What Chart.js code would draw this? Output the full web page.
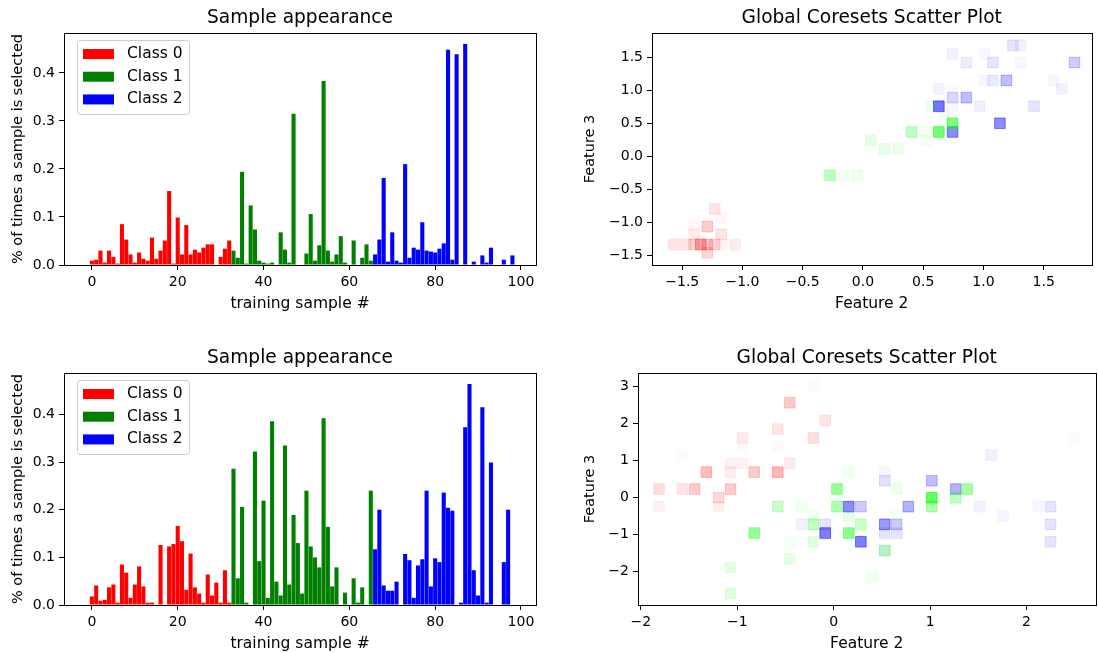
<!DOCTYPE html>
<html>
<head>
<meta charset="utf-8">
<script src="https://cdn.jsdelivr.net/npm/chart.js@4/dist/chart.umd.min.js"></script>
<style>
    html, body { margin: 0; padding: 0; background: #fff; }
    body { width: 1098px; height: 653px; position: relative; overflow: hidden; }
    canvas { position: absolute; }
</style>
</head>
<body>
<canvas id="barTop" width="546" height="314" style="left:0px;top:0px"></canvas>
<canvas id="barBottom" width="546" height="314" style="left:0px;top:340px"></canvas>
<canvas id="scatterTop" width="530" height="314" style="left:570px;top:0px"></canvas>
<canvas id="scatterBottom" width="534" height="314" style="left:570px;top:340px"></canvas>
<script>
// class names / colours
const classNames = ["Class 0", "Class 1", "Class 2"];
const barColors = ["#ff0000", "#008000", "#0000ff"];
const pointRgb = ["255,0,0", "0,255,0", "0,0,255"];
const classStart = [0, 33, 66];

// top "Sample appearance" (training samples 0..99)
const topClass0 = [0.009, 0.011, 0.030, 0.005, 0.030, 0.017, 0.003, 0.085, 0.053, 0.022, 0.005, 0.026, 0.013, 0.009, 0.057, 0.013, 0.030, 0.051, 0.154, 0.003, 0.099, 0.022, 0.083, 0.022, 0.032, 0.026, 0.036, 0.043, 0.043, 0, 0.017, 0.034, 0.051];
const topClass1 = [0.030, 0.015, 0.194, 0.003, 0.124, 0.074, 0.009, 0.005, 0.003, 0.005, 0, 0.068, 0.032, 0.005, 0.315, 0, 0, 0.024, 0.106, 0.009, 0.041, 0.383, 0.030, 0.007, 0.022, 0.060, 0.005, 0, 0.051, 0, 0.015, 0.043, 0.009];
const topClass2 = [0.022, 0.053, 0.181, 0.007, 0.068, 0.009, 0.005, 0.210, 0.015, 0.036, 0.032, 0.089, 0.030, 0.028, 0.026, 0.034, 0.045, 0.448, 0.011, 0.439, 0, 0.460, 0, 0.007, 0, 0.020, 0.005, 0.036, 0, 0, 0.011, 0, 0.020, 0];

// bottom "Sample appearance"
const botClass0 = [0.018, 0.041, 0.009, 0.011, 0.037, 0.043, 0.005, 0.085, 0.068, 0.015, 0.043, 0.081, 0.039, 0.005, 0.005, 0, 0.126, 0, 0.123, 0.128, 0.166, 0.134, 0.032, 0.108, 0.037, 0.024, 0.005, 0.064, 0.020, 0.047, 0.005, 0.073, 0.005];
const botClass1 = [0.286, 0.056, 0.206, 0.005, 0, 0.322, 0.092, 0.219, 0.015, 0.386, 0.049, 0.020, 0.335, 0.043, 0.189, 0.130, 0.024, 0.240, 0.123, 0.100, 0.079, 0.392, 0.164, 0.039, 0.079, 0, 0.026, 0, 0.056, 0.005, 0.037, 0, 0.240];
const botClass2 = [0.117, 0.200, 0.041, 0.030, 0.030, 0.049, 0.001, 0.107, 0.094, 0.015, 0.083, 0.096, 0.240, 0.039, 0.098, 0.090, 0.236, 0.204, 0.198, 0, 0.005, 0.373, 0.464, 0.073, 0.020, 0.415, 0.005, 0.299, 0, 0, 0.090, 0.200, 0, 0];

// top scatter: [feature 2, feature 3, alpha]
const topRed = [[-1.569, -1.336, 0.10], [-1.469, -1.336, 0.10], [-1.401, -1.336, 0.15], [-1.346, -1.336, 0.35], [-1.292, -1.336, 0.20], [-1.230, -1.336, 0.15], [-1.061, -1.336, 0.07], [-1.292, -1.066, 0.20], [-1.230, -0.798, 0.10], [-1.175, -0.929, 0.03], [-1.175, -1.182, 0.10], [-1.401, -1.182, 0.07], [-1.401, -1.040, 0.03], [-1.292, -1.462, 0.15], [-1.170, -1.336, 0.05]];
const topGreen = [[-0.274, -0.288, 0.25], [-0.160, -0.288, 0.05], [-0.046, -0.288, 0.07], [0.065, 0.242, 0.10], [0.179, 0.111, 0.10], [0.293, 0.111, 0.08], [0.404, 0.369, 0.25], [0.518, 0.369, 0.05], [0.518, 0.242, 0.05], [0.630, 0.369, 0.55], [0.744, 0.500, 0.50], [0.676, 0.626, 0.05], [0.567, 0.758, 0.07]];
const topBlue = [[0.744, 0.369, 0.45], [0.630, 0.758, 0.55], [0.744, 0.889, 0.15], [0.744, 0.758, 0.03], [0.858, 0.889, 0.25], [0.630, 1.020, 0.05], [0.744, 1.020, 0.02], [0.744, 1.550, 0.05], [0.858, 1.420, 0.07], [0.969, 0.758, 0.06], [1.137, 0.500, 0.45], [1.078, 1.420, 0.10], [1.015, 1.550, 0.03], [1.078, 1.150, 0.08], [1.190, 1.150, 0.25], [1.015, 1.150, 0.03], [1.245, 1.680, 0.10], [1.310, 1.680, 0.05], [1.310, 1.420, 0.03], [1.420, 0.758, 0.10], [1.585, 1.150, 0.03], [1.650, 1.020, 0.05], [1.756, 1.420, 0.20]];

// bottom scatter
const botRed = [[-1.812, 0.224, 0.12], [-1.812, -0.251, 0.05], [-1.567, 0.224, 0.10], [-1.442, 0.224, 0.20], [-1.567, 1.140, 0.02], [-1.320, 0.680, 0.25], [-1.194, -0.010, 0.15], [-1.194, -0.251, 0.06], [-1.070, 0.224, 0.20], [-1.070, 0.680, 0.07], [-1.070, 0.915, 0.05], [-0.947, 0.915, 0.05], [-0.947, 1.600, 0.08], [-0.947, 1.330, 0.02], [-0.824, 0.680, 0.20], [-0.580, 0.680, 0.28], [-0.580, 1.840, 0.10], [-0.580, 1.380, 0.02], [-0.456, 2.550, 0.20], [-0.456, 0.915, 0.08], [-0.210, 1.600, 0.12], [-0.210, 3.020, 0.02], [-0.088, 2.070, 0.10]];
const botGreen = [[0.034, 0.224, 0.40], [0.156, 0.680, 0.05], [0.034, -0.251, 0.30], [0.156, -0.494, 0.10], [0.156, -0.962, 0.45], [0.282, -0.727, 0.20], [-0.580, -0.251, 0.20], [-0.333, -0.251, 0.06], [-0.210, -0.494, 0.05], [-0.210, -0.727, 0.25], [-0.210, -1.196, 0.12], [-0.456, -1.196, 0.04], [-0.456, -1.657, 0.10], [-0.824, -0.962, 0.40], [-1.070, -1.890, 0.10], [-1.070, -2.590, 0.12], [0.405, -2.140, 0.05], [0.530, -1.430, 0.22], [0.653, 0.224, 0.07], [0.653, -0.494, 0.05], [1.018, -0.010, 0.60], [1.018, -0.251, 0.30], [1.266, -0.010, 0.25], [1.385, 0.224, 0.35]];
const botBlue = [[0.156, -0.251, 0.45], [0.282, -0.251, 0.20], [-0.088, -0.962, 0.50], [-0.088, -0.727, 0.10], [-0.333, -0.727, 0.05], [0.282, -1.196, 0.50], [0.530, -0.727, 0.40], [0.653, -0.727, 0.20], [0.530, -0.962, 0.10], [0.653, -0.962, 0.10], [0.530, 0.449, 0.12], [0.530, 0.680, 0.03], [0.775, -0.251, 0.30], [1.018, 0.449, 0.25], [1.266, 0.224, 0.30], [1.514, -0.251, 0.05], [1.633, 1.140, 0.06], [1.758, -0.494, 0.04], [2.125, -0.251, 0.03], [2.250, -0.251, 0.10], [2.250, -0.727, 0.10], [2.250, -1.196, 0.10], [2.500, 1.600, 0.02], [0.530, -1.430, 0.08]];

const FONT = '"DejaVu Sans", sans-serif';
Chart.defaults.font.family = FONT;
Chart.defaults.color = "#000";

const minus = s => String(s).replace("-", "\u2212");

// black box round the plot area
const frame = {
    id: "frame",
    afterDraw(chart) {
        const a = chart.chartArea, ctx = chart.ctx;
        ctx.save();
        ctx.strokeStyle = "#000";
        ctx.lineWidth = 1;
        ctx.strokeRect(Math.round(a.left) + 0.5, Math.round(a.top) + 0.5, Math.round(a.right - a.left), Math.round(a.bottom - a.top));
        ctx.restore();
    }
};

// matplotlib-like legend in the upper left corner
const boxLegend = {
    id: "boxLegend",
    afterDatasetsDraw(chart, args, opts) {
        if (!opts.show) return;
        const a = chart.chartArea, ctx = chart.ctx;
        ctx.save();
        ctx.beginPath();
        ctx.roundRect(a.left + 13.5, a.top + 7.5, 112, 74, 3);
        ctx.fillStyle = "rgba(255,255,255,0.8)";
        ctx.fill();
        ctx.strokeStyle = "#cccccc";
        ctx.lineWidth = 1;
        ctx.stroke();
        ctx.font = "15.5px " + FONT;
        ctx.textBaseline = "middle";
        chart.data.datasets.forEach((ds, i) => {
            const cy = a.top + 21 + i * 22.7;
            ctx.fillStyle = ds.backgroundColor;
            ctx.fillRect(a.left + 19, cy - 5, 31, 10);
            ctx.fillStyle = "#000";
            ctx.fillText(ds.label, a.left + 63, cy);
        });
        ctx.restore();
    }
};

function axis(opts) {
    return {
        type: "linear",
        min: opts.min,
        max: opts.max,
        offset: false,
        grid: { offset: false, drawOnChartArea: false, drawTicks: true, tickLength: 5, tickColor: "#000", tickWidth: 1 },
        border: { display: true, color: "#000", width: 1 },
        ticks: {
            stepSize: opts.step,
            includeBounds: false,
            autoSkip: false,
            maxRotation: 0,
            padding: 4,
            font: { size: 14 },
            color: "#000",
            callback: opts.fmt
        },
        title: { display: true, text: opts.title, font: { size: opts.titleSize }, color: "#000", padding: opts.titlePad },
        afterFit: opts.fit
    };
}

function baseOptions(title, padRight, legend, xAxis, yAxis) {
    return {
        responsive: false,
        animation: false,
        events: [],
        layout: { padding: { left: 0, right: padRight, top: 0, bottom: 0 } },
        plugins: {
            legend: { display: false },
            tooltip: { enabled: false },
            title: { display: true, text: title, fullSize: false, font: { size: 18.6, weight: "normal" }, color: "#000", padding: { top: 6.8, bottom: 3.9 } },
            boxLegend: { show: legend }
        },
        scales: { x: xAxis, y: yAxis }
    };
}

function barChart(id, classValues, yMax) {
    const datasets = classValues.map((vals, c) => ({
        label: classNames[c],
        data: vals.map((v, i) => ({ x: classStart[c] + i, y: v })),
        backgroundColor: barColors[c],
        borderWidth: 0,
        grouped: false,
        barPercentage: 1,
        categoryPercentage: 0.95
    }));
    new Chart(document.getElementById(id), {
        type: "bar",
        data: { datasets },
        options: baseOptions("Sample appearance", 10, true,
            axis({ min: -6.5, max: 103.5, step: 20, title: "training sample #", titleSize: 15.5, titlePad: { top: 1, bottom: 1 },
                   fmt: v => v, fit: s => { s.height = 49; } }),
            axis({ min: 0, max: yMax, step: 0.1, title: "% of times a sample is selected", titleSize: 14.5, titlePad: { top: 9.3, bottom: 0 },
                   fmt: v => v.toFixed(1), fit: s => { s.width = 64; } })),
        plugins: [frame, boxLegend]
    });
}

function scatterChart(id, classPoints, xr, yr, digits, yWidth) {
    const datasets = classPoints.map((pts, c) => ({
        label: classNames[c],
        data: pts.map(p => ({ x: p[0], y: p[1], a: p[2] })),
        pointStyle: "rect",
        pointRadius: 7.5,
        borderWidth: 1,
        backgroundColor: ctx => "rgba(" + pointRgb[c] + "," + (ctx.raw ? ctx.raw.a : 1) + ")",
        borderColor: ctx => "rgba(" + pointRgb[c] + "," + (ctx.raw ? ctx.raw.a : 1) + ")"
    }));
    new Chart(document.getElementById(id), {
        type: "scatter",
        data: { datasets },
        options: baseOptions("Global Coresets Scatter Plot", 0, false,
            axis({ min: xr[0], max: xr[1], step: xr[2], title: "Feature 2", titleSize: 15.5, titlePad: { top: 1, bottom: 1 },
                   fmt: v => minus(v.toFixed(digits)), fit: s => { s.height = 49; } }),
            axis({ min: yr[0], max: yr[1], step: yr[2], title: "Feature 3", titleSize: 14.5, titlePad: { top: 11.3, bottom: 0 },
                   fmt: v => minus(v.toFixed(digits)), fit: s => { s.width = yWidth; } })),
        plugins: [frame]
    });
}

barChart("barTop", [topClass0, topClass1, topClass2], 0.483);
barChart("barBottom", [botClass0, botClass1, botClass2], 0.487);
scatterChart("scatterTop", [topRed, topGreen, topBlue], [-1.751, 1.897, 0.5], [-1.647, 1.868, 0.5], 1, 82);
scatterChart("scatterBottom", [botRed, botGreen, botBlue], [-2.03, 2.716, 1], [-2.90, 3.35, 1], 0, 68);
</script>
</body>
</html>
